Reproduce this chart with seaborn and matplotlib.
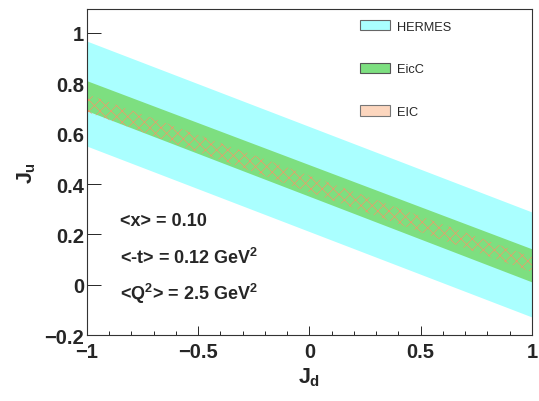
import seaborn as sns
import matplotlib.pyplot as plt
from matplotlib.patches import Patch

# band edges at J_d = -1 and J_d = 1
jd = [-1.0, 1.0]
hermes_lo = [0.550, -0.127]
hermes_hi = [0.966, 0.289]
eicc_lo = [0.690, 0.012]
eicc_hi = [0.809, 0.143]
eic_lo = [0.685, 0.051]
eic_hi = [0.756, 0.111]

labels = ["HERMES", "EicC", "EIC"]
info = ["<x> = 0.10", "<-t> = 0.12 GeV$^{2}$", "<Q$^{2}$> = 2.5 GeV$^{2}$"]

sns.set_style("ticks")
plt.rcParams['font.family'] = ['Liberation Sans', 'DejaVu Sans']
plt.rcParams['mathtext.fontset'] = 'custom'
plt.rcParams['mathtext.rm'] = 'Liberation Sans:bold'
plt.rcParams['mathtext.it'] = 'Liberation Sans:bold'
plt.rcParams['mathtext.bf'] = 'Liberation Sans:bold'
plt.rcParams['hatch.linewidth'] = 0.5

fig = plt.figure(figsize=(5.39, 4.02), dpi=100)
ax = fig.add_axes([0.1614, 0.163, 0.8256, 0.812])

cyan = "#aaffff"
green = "#7ddf80"
orange = "#f09a68"

ax.fill_between(jd, hermes_lo, hermes_hi, color=cyan, linewidth=0)
ax.fill_between(jd, eicc_lo, eicc_hi, color=green, linewidth=0)
ax.fill_between(jd, eic_lo, eic_hi, facecolor="none", edgecolor=orange,
                hatch="xxx", linewidth=0)

ax.set_xlim(-1, 1)
ax.set_ylim(-0.2, 1.093)
ax.set_xticks([-1, -0.5, 0, 0.5, 1])
ax.set_xticklabels(["\u22121", "\u22120.5", "0", "0.5", "1"])
ax.set_xticks([x / 10 for x in range(-10, 11)], minor=True)
ax.set_yticks([-0.2, 0, 0.2, 0.4, 0.6, 0.8, 1.0])
ax.set_yticklabels(["\u22120.2", "0", "0.2", "0.4", "0.6", "0.8", "1"])
ax.tick_params(axis="x", which="major", direction="in", length=6.5, width=0.7,
               labelsize=14.5, pad=5)
ax.tick_params(axis="x", which="minor", direction="in", length=3, width=0.7)
ax.tick_params(axis="y", which="major", direction="in", length=10, width=0.7,
               labelsize=14.5, pad=2)
for lab in ax.get_xticklabels() + ax.get_yticklabels():
    lab.set_fontweight("bold")
for s in ax.spines.values():
    s.set_color("#333333")
    s.set_linewidth(0.8)

ax.set_xlabel("$J_{d}$", fontsize=15.5, labelpad=3)
ax.set_ylabel("$J_{u}$", fontsize=15.5, labelpad=5)

ys = [0.255, 0.113, -0.03]
for t, y in zip(info, ys):
    ax.text(-0.85, y, t, fontsize=13, fontweight="bold", va="center")

handles = [
    Patch(facecolor=cyan, edgecolor="#666666", linewidth=0.8),
    Patch(facecolor=green, edgecolor="#555555", linewidth=0.8),
    Patch(facecolor="#fcd6be", edgecolor="#777777", linewidth=0.8),
]
ax.legend(handles, labels, loc="upper left", bbox_to_anchor=(0.613, 0.967),
          frameon=False, fontsize=9.2, handlelength=2.4, handleheight=0.9,
          handletextpad=0.5, labelspacing=2.35, borderpad=0, borderaxespad=0)

fig.savefig("out.png", dpi=100)
